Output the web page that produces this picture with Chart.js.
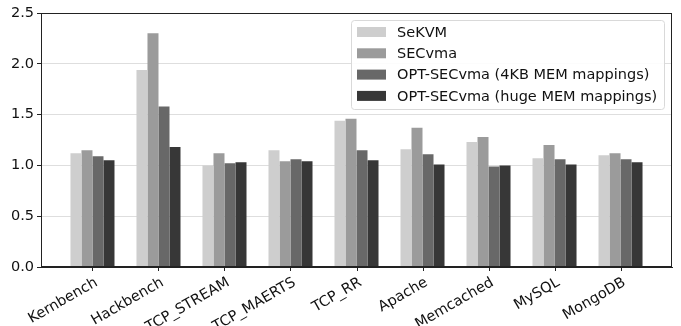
<!DOCTYPE html>
<html>
<head>
<meta charset="utf-8">
<script src="https://cdn.jsdelivr.net/npm/chart.js@4"></script>
<style>
  html, body { margin: 0; padding: 0; background: #fff; }
  #wrap { width: 681px; height: 326px; }
</style>
</head>
<body>
<div id="wrap"><canvas id="chart"></canvas></div>
<script>
// ── Data ──────────────────────────────────────
const CATEGORIES = ['Kernbench', 'Hackbench', 'TCP_STREAM', 'TCP_MAERTS', 'TCP_RR',
                    'Apache', 'Memcached', 'MySQL', 'MongoDB'];
const SERIES = ['SeKVM', 'SECvma', 'OPT-SECvma (4KB MEM mappings)', 'OPT-SECvma (huge MEM mappings)'];
const SEKVM   = [1.12, 1.94, 1.00, 1.15, 1.44, 1.16, 1.23, 1.07, 1.10];
const SECVMA  = [1.15, 2.30, 1.12, 1.04, 1.46, 1.37, 1.28, 1.20, 1.12];
const OPT_4KB = [1.09, 1.58, 1.02, 1.06, 1.15, 1.11, 0.99, 1.06, 1.06];
const OPT_HUGE = [1.05, 1.18, 1.03, 1.04, 1.05, 1.01, 1.00, 1.01, 1.03];
const Y_TICKS = [0, 0.5, 1.0, 1.5, 2.0, 2.5];

const COLORS = ['#cecece', '#9b9b9b', '#686868', '#373737'];
const FONT = 'DejaVu Sans';
const FONT_SIZE = 14.5;

const datasets = [SEKVM, SECVMA, OPT_4KB, OPT_HUGE].map((vals, i) => ({
  label: SERIES[i],
  data: vals.map((v, k) => ({ x: k, y: v })),
  backgroundColor: COLORS[i],
  borderWidth: 0,
  categoryPercentage: 0.667,
  barPercentage: 1.0
}));

// ── Frame + legend box (matplotlib style) ─────
const framePlugin = {
  id: 'frame',
  afterDraw(chart) {
    const { ctx, chartArea: a } = chart;
    ctx.save();
    ctx.strokeStyle = '#222';
    ctx.lineWidth = 1;
    ctx.strokeRect(a.left + 0.5, a.top + 0.5, a.right - a.left - 1, a.bottom - a.top - 1);

    // category tick marks below the axis
    const xs = chart.scales.x;
    ctx.beginPath();
    CATEGORIES.forEach((_, k) => {
      const px = Math.round(xs.getPixelForValue(k)) + 0.5;
      ctx.moveTo(px, a.bottom);
      ctx.lineTo(px, a.bottom + 4);
    });
    ctx.stroke();

    // legend
    const x = 351, y = 20, w = 313, h = 89;
    ctx.beginPath();
    ctx.roundRect(x + 0.5, y + 0.5, w, h, 3);
    ctx.fillStyle = 'rgba(255,255,255,0.9)';
    ctx.fill();
    ctx.strokeStyle = '#d9d9d9';
    ctx.stroke();
    ctx.font = `${FONT_SIZE}px "${FONT}"`;
    ctx.textBaseline = 'middle';
    chart.data.datasets.forEach((ds, i) => {
      const cy = 32 + i * 21.3;
      ctx.fillStyle = ds.backgroundColor;
      ctx.fillRect(357, cy - 5, 29, 10);
      ctx.fillStyle = '#111';
      ctx.fillText(ds.label, 397, cy + 1);
    });
    ctx.restore();
  }
};

new Chart(document.getElementById('chart'), {
  type: 'bar',
  data: { datasets },
  options: {
    responsive: true,
    maintainAspectRatio: false,
    animation: false,
    layout: { padding: { top: 13, right: 9, left: 0, bottom: 0 } },
    plugins: {
      legend: { display: false },
      tooltip: { enabled: false }
    },
    scales: {
      x: {
        type: 'linear',
        min: -0.78,
        max: 8.78,
        offset: false,
        grid: { offset: false, drawOnChartArea: false, drawTicks: false },
        border: { color: '#222' },
        ticks: {
          stepSize: 1,
          includeBounds: false,
          autoSkip: false,
          minRotation: 30,
          maxRotation: 30,
          padding: 7,
          labelOffset: 4,
          color: '#111',
          font: { family: FONT, size: FONT_SIZE },
          callback: v => CATEGORIES[v] ?? ''
        },
        afterFit: s => { s.height = 59; }
      },
      y: {
        min: 0,
        max: 2.5,
        grid: { color: '#dedede', tickLength: 4, tickColor: '#222' },
        border: { color: '#222' },
        afterBuildTicks: s => { s.ticks = Y_TICKS.map(v => ({ value: v })); },
        ticks: {
          padding: 3,
          color: '#111',
          font: { family: FONT, size: FONT_SIZE },
          callback: v => v.toFixed(1)
        },
        afterFit: s => { s.width = 41; }
      }
    }
  },
  plugins: [framePlugin]
});
</script>
</body>
</html>
